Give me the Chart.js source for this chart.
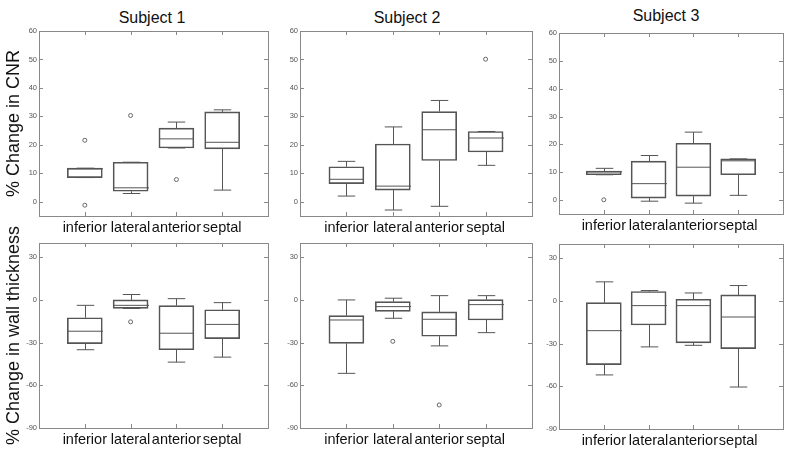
<!DOCTYPE html>
<html>
<head>
<meta charset="utf-8">
<script src="https://cdn.jsdelivr.net/npm/chart.js@4.4.1/dist/chart.umd.min.js"></script>
<style>
  body { margin: 0; background: #fff; }
  #wrap { position: relative; width: 800px; height: 449px; overflow: hidden; font-family: Arial, "Liberation Sans", sans-serif; }
  canvas { position: absolute; }
  .ttl { position: absolute; font-size: 16px; line-height: 20px; color: #111; white-space: nowrap; transform: translateX(-50%); }
</style>
</head>
<body>
<div id="wrap">
  <div class="ttl" style="left:152px;top:8px">Subject 1</div>
  <div class="ttl" style="left:407px;top:8px">Subject 2</div>
  <div class="ttl" style="left:666px;top:6px">Subject 3</div>
  <canvas id="c1"></canvas><canvas id="c2"></canvas><canvas id="c3"></canvas>
  <canvas id="c4"></canvas><canvas id="c5"></canvas><canvas id="c6"></canvas>
</div>
<script>
const categories = ['inferior', 'lateral', 'anterior', 'septal'];
const cnrTicks = [0, 10, 20, 30, 40, 50, 60];
const wallTicks = [-90, -60, -30, 0, 30];

// box rows: [whisker low, q1, median, q3, whisker high]
const cnr1 = [[8.5, 8.5, 11.6, 11.8, 11.8], [2.9, 3.7, 4.9, 13.9, 13.9], [18.9, 18.9, 22.1, 25.9, 28.0], [4.1, 18.6, 20.9, 31.6, 32.3]];
const cnr2 = [[2.0, 6.4, 7.9, 12.3, 14.2], [-2.9, 4.1, 5.5, 20.3, 26.3], [-1.6, 14.5, 25.3, 31.7, 35.6], [12.8, 17.5, 22.4, 24.7, 24.7]];
const cnr3 = [[9.1, 9.1, 10.2, 10.4, 11.4], [-0.4, 0.7, 5.9, 14.0, 16.0], [-1.1, 1.4, 11.8, 20.4, 24.4], [1.7, 9.1, 14.1, 14.8, 14.8]];
const wall1 = [[-35.0, -30.7, -22.0, -12.5, -3.8], [-6.0, -5.9, -3.8, 0.0, 3.8], [-43.7, -35.0, -23.4, -4.0, 0.9], [-40.2, -27.2, -17.2, -6.9, -1.9]];
const wall2 = [[-51.6, -30.5, -14.1, -11.0, 0.0], [-12.9, -8.0, -4.7, -1.2, 1.2], [-32.3, -25.5, -13.6, -8.4, 3.0], [-23.0, -14.1, -3.3, 0.2, 3.0]];
const wall3 = [[-52.0, -44.8, -20.9, -1.2, 13.4], [-32.3, -16.9, -3.3, 6.6, 7.3], [-31.2, -29.5, -3.3, 1.2, 5.6], [-60.5, -33.5, -11.3, 4.2, 10.8]];

// outliers: [category number, value]
const cnr1Out = [[1, 21.6], [1, -1.2], [2, 30.3], [3, 7.8]];
const cnr2Out = [[4, 50.1]];
const cnr3Out = [[1, 0.1]];
const wall1Out = [[2, -15.4]];
const wall2Out = [[2, -29.1], [3, -73.8]];
const wall3Out = [];

const lineCol = '#555';
const frameCol = '#888';

const boxPlugin = {
  id: 'boxes',
  afterDatasetsDraw(chart) {
    const rows = chart.options.plugins.boxes.rows;
    const y = chart.scales.y;
    const meta = chart.getDatasetMeta(0);
    const ctx = chart.ctx;
    ctx.save();
    ctx.strokeStyle = lineCol;
    ctx.lineWidth = 1;
    meta.data.forEach((bar, i) => {
      const r = rows[i];
      const x = Math.round(bar.x) + 0.5;
      const half = bar.width / 2;
      const cap = bar.width / 4;
      const pLo = y.getPixelForValue(r[0]), pQ1 = y.getPixelForValue(r[1]);
      const pMed = y.getPixelForValue(r[2]);
      const pQ3 = y.getPixelForValue(r[3]), pHi = y.getPixelForValue(r[4]);
      ctx.beginPath();
      ctx.moveTo(x, pQ1); ctx.lineTo(x, pLo);
      ctx.moveTo(x - cap, pLo); ctx.lineTo(x + cap, pLo);
      ctx.moveTo(x, pQ3); ctx.lineTo(x, pHi);
      ctx.moveTo(x - cap, pHi); ctx.lineTo(x + cap, pHi);
      ctx.moveTo(x - half, pMed); ctx.lineTo(x + half, pMed);
      ctx.stroke();
    });
    ctx.restore();
  },
  afterDraw(chart) {
    const {ctx, chartArea: a, scales} = chart;
    ctx.save();
    ctx.strokeStyle = frameCol;
    ctx.lineWidth = 1;
    ctx.strokeRect(Math.round(a.left) + 0.5, Math.round(a.top) + 0.5, Math.round(a.right - a.left), Math.round(a.bottom - a.top));
    ctx.beginPath();
    scales.y.ticks.forEach(t => {
      const py = Math.round(scales.y.getPixelForValue(t.value)) + 0.5;
      ctx.moveTo(a.left, py); ctx.lineTo(a.left + 4, py);
      ctx.moveTo(a.right, py); ctx.lineTo(a.right - 4, py);
    });
    scales.x.ticks.forEach(t => {
      const px = Math.round(scales.x.getPixelForValue(t.value)) + 0.5;
      ctx.moveTo(px, a.top); ctx.lineTo(px, a.top + 4);
      ctx.moveTo(px, a.bottom); ctx.lineTo(px, a.bottom - 4);
    });
    ctx.stroke();
    ctx.restore();
  }
};

function makePanel(id, rows, outs, yTicks, yMin, yMax, box, yTitle) {
  const cv = document.getElementById(id);
  cv.width = box.w; cv.height = box.h;
  cv.style.left = box.left + 'px'; cv.style.top = box.top + 'px';
  return new Chart(cv, {
    type: 'bar',
    data: {
      datasets: [{
        data: rows.map((r, i) => ({x: i + 1, y: [r[1], r[3]]})),
        backgroundColor: 'rgba(0,0,0,0)',
        borderColor: lineCol,
        borderWidth: 1,
        borderSkipped: false,
        barThickness: 35
      }, {
        type: 'scatter',
        data: outs.map(o => ({x: o[0], y: o[1]})),
        pointRadius: 2,
        pointBorderWidth: 1,
        borderColor: '#666',
        backgroundColor: '#fff'
      }]
    },
    options: {
      responsive: false,
      animation: false,
      layout: {padding: {top: box.padTop, right: box.padRight, left: 0, bottom: 0}},
      plugins: {legend: {display: false}, tooltip: {enabled: false}, boxes: {rows: rows}},
      scales: {
        x: {
          type: 'linear', min: 0, max: 5, offset: false,
          afterBuildTicks: s => { s.ticks = categories.map((c, i) => ({value: i + 1})); },
          afterFit: s => { s.height = box.xh; },
          grid: {display: false, drawTicks: false}, border: {display: false},
          ticks: {
            autoSkip: false, maxRotation: 0, padding: 3, color: '#111',
            font: {family: 'Arial, "Liberation Sans", sans-serif', size: 14.5},
            callback: v => categories[v - 1]
          }
        },
        y: {
          min: yMin, max: yMax,
          afterBuildTicks: s => { s.ticks = yTicks.map(v => ({value: v})); },
          afterFit: s => { s.width = box.yw; },
          grid: {display: false, drawTicks: false}, border: {display: false},
          ticks: {autoSkip: false, padding: 2, color: '#555', font: {family: 'Arial, "Liberation Sans", sans-serif', size: 7.5}},
          title: {
            display: !!yTitle, text: yTitle || '', color: '#111', padding: {top: 3, bottom: 0},
            font: {family: 'Arial, "Liberation Sans", sans-serif', size: 18}
          }
        }
      }
    },
    plugins: [boxPlugin]
  });
}

makePanel('c1', cnr1, cnr1Out, cnrTicks, -5, 60, {left: 0, top: 20, w: 275, h: 215, yw: 39, padTop: 11, padRight: 7, xh: 19}, '% Change in CNR');
makePanel('c2', cnr2, cnr2Out, cnrTicks, -5, 60, {left: 275, top: 20, w: 262, h: 215, yw: 25, padTop: 11, padRight: 5, xh: 19});
makePanel('c3', cnr3, cnr3Out, cnrTicks, -5, 60, {left: 537, top: 20, w: 263, h: 215, yw: 22, padTop: 13, padRight: 17, xh: 21});
makePanel('c4', wall1, wall1Out, wallTicks, -90, 40, {left: 0, top: 220, w: 275, h: 229, yw: 39, padTop: 23, padRight: 7, xh: 21}, '% Change in wall thickness');
makePanel('c5', wall2, wall2Out, wallTicks, -90, 40, {left: 275, top: 220, w: 262, h: 229, yw: 25, padTop: 23, padRight: 5, xh: 21});
makePanel('c6', wall3, wall3Out, wallTicks, -90, 40, {left: 537, top: 220, w: 263, h: 229, yw: 22, padTop: 24, padRight: 17, xh: 20});
</script>
</body>
</html>
